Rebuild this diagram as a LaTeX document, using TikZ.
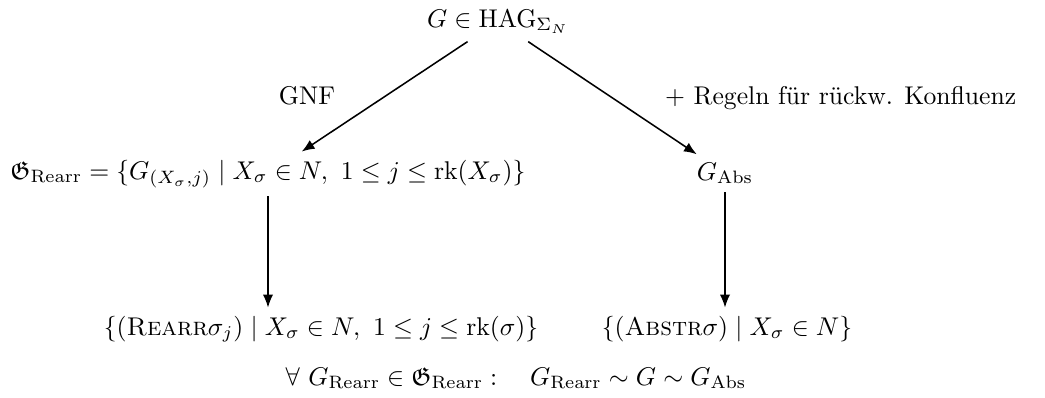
\documentclass[tikz,border=0pt]{standalone}
\usepackage{amsmath,amssymb}
\usetikzlibrary{arrows.meta}
\begin{document}
\begin{tikzpicture}[x=0.39pt,y=-0.39pt,
  every node/.style={inner sep=3pt},
  arr/.style={-{Latex[length=5pt,width=4pt]}, line width=0.6pt}]
\useasboundingbox (0,0) rectangle (1045,398);
\node[anchor=base] (top) at (498,27) {$G \in \mathrm{HAG}_{\Sigma_N}$};
\node[anchor=base] (left) at (268,179) {$\mathfrak{G}_{\mathrm{Rearr}} = \{G_{(X_\sigma,j)} \mid X_\sigma \in N,\ 1 \le j \le \mathrm{rk}(X_\sigma)\}$};
\node[anchor=base] (abs) at (725,180) {$G_{\mathrm{Abs}}$};
\node[anchor=base] (bleft) at (321,335) {$\{(\textsc{Rearr}\sigma_j) \mid X_\sigma \in N,\ 1 \le j \le \mathrm{rk}(\sigma)\}$};
\node[anchor=base] (babs) at (727,335) {$\{(\textsc{Abstr}\sigma) \mid X_\sigma \in N\}$};
\node[anchor=base] (final) at (516,385) {$\forall\ G_{\mathrm{Rearr}} \in \mathfrak{G}_{\mathrm{Rearr}}:\quad G_{\mathrm{Rearr}} \sim G \sim G_{\mathrm{Abs}}$};
\node[anchor=base] (gnf) at (307,105) {GNF};
\node[anchor=base west] (regeln) at (657,105) {$+$ Regeln für rückw. Konfluenz};
\draw[arr] (top) -- (left);
\draw[arr] (top) -- (abs);
\draw[arr] (left) -- (left |- bleft.north);
\draw[arr] (abs) -- (abs |- babs.north);
\end{tikzpicture}
\end{document}
